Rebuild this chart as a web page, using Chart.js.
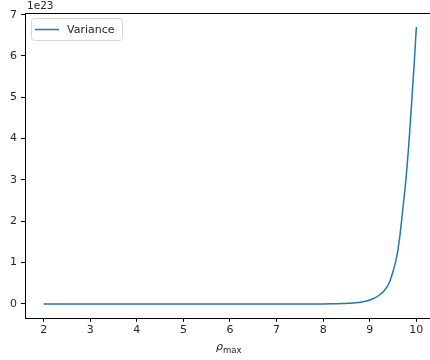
<!DOCTYPE html>
<html>
<head>
<meta charset="utf-8">
<script src="https://cdn.jsdelivr.net/npm/chart.js@4"></script>
<style>
  html, body { margin: 0; padding: 0; background: #fff; overflow: hidden; }
  #wrap { width: 440px; height: 360px; }
</style>
</head>
<body>
<div id="wrap"><canvas id="c" width="440" height="360"></canvas></div>
<script>
// rho_max values and variance (in units of 1e23)
var rhoMax = [2, 3, 4, 5, 6, 7, 7.5, 8, 8.2, 8.3, 8.4, 8.5, 8.6, 8.7, 8.8, 8.9,
              9.0, 9.1, 9.2, 9.3, 9.4, 9.45, 9.5, 9.55, 9.6, 9.65, 9.7, 9.75,
              9.8, 9.85, 9.9, 9.95, 10.0];
var variance = [0, 0, 0, 0, 0, 0, 0.0001, 0.001, 0.003, 0.005, 0.008, 0.013, 0.019, 0.029, 0.043, 0.064,
                0.095, 0.14, 0.21, 0.31, 0.47, 0.61, 0.79, 1.0, 1.28, 1.68, 2.2, 2.72,
                3.32, 4.05, 4.9, 5.75, 6.7];
var xTicks = [2, 3, 4, 5, 6, 7, 8, 9, 10];
var yTicks = [0, 1, 2, 3, 4, 5, 6, 7];

var FONT = "'DejaVu Sans', sans-serif";
var ink = "#262626";

var points = rhoMax.map(function (x, i) { return { x: x, y: variance[i] }; });

// frame, in-axes legend, offset text and the subscripted x label
var decor = {
  id: "decor",
  afterDraw: function (chart) {
    var ctx = chart.ctx, a = chart.chartArea;
    ctx.save();
    ctx.strokeStyle = "#000";
    ctx.lineWidth = 1;
    ctx.strokeRect(Math.round(a.left) + 0.5, Math.round(a.top) + 0.5,
                   Math.round(a.right - a.left), Math.round(a.bottom - a.top));

    // legend box
    var lx = a.left + 6, ly = a.top + 5, lw = 91, lh = 22;
    ctx.fillStyle = "rgba(255,255,255,0.8)";
    ctx.strokeStyle = "#d6d6d6";
    ctx.beginPath();
    if (ctx.roundRect) ctx.roundRect(lx + 0.5, ly + 0.5, lw, lh, 3); else ctx.rect(lx + 0.5, ly + 0.5, lw, lh);
    ctx.fill(); ctx.stroke();
    ctx.strokeStyle = "#1f77b4";
    ctx.lineWidth = 1.5;
    ctx.beginPath();
    ctx.moveTo(lx + 4, ly + 11.5); ctx.lineTo(lx + 28, ly + 11.5);
    ctx.stroke();
    ctx.fillStyle = ink;
    ctx.font = "11px " + FONT;
    ctx.textBaseline = "middle";
    ctx.textAlign = "left";
    ctx.fillText(chart.data.datasets[0].label, lx + 36, ly + 12);

    // offset text
    ctx.textBaseline = "alphabetic";
    ctx.font = "10.5px " + FONT;
    ctx.fillText("1e23", a.left + 2, a.top - 4);

    // x label: rho with subscript "max"
    ctx.font = "italic 11px " + FONT;
    var rw = ctx.measureText("\u03c1").width;
    ctx.fillText("\u03c1", 216, 350);
    ctx.font = "8.5px " + FONT;
    ctx.fillText("max", 216 + rw, 353);
    ctx.restore();
  }
};

new Chart(document.getElementById("c").getContext("2d"), {
  type: "line",
  data: {
    datasets: [{
      label: "Variance",
      data: points,
      borderColor: "#1f77b4",
      backgroundColor: "#1f77b4",
      borderWidth: 1.5,
      pointRadius: 0,
      cubicInterpolationMode: "monotone",
      fill: false
    }]
  },
  options: {
    responsive: false,
    animation: false,
    layout: { padding: { top: 13, right: 5, bottom: 21, left: 6 } },
    plugins: { legend: { display: false }, tooltip: { enabled: false } },
    scales: {
      x: {
        type: "linear",
        min: 1.6,
        max: 10.4,
        afterBuildTicks: function (s) { s.ticks = xTicks.map(function (v) { return { value: v }; }); },
        ticks: { color: ink, font: { family: FONT, size: 11 }, padding: 2, maxRotation: 0 },
        grid: { drawOnChartArea: false, drawTicks: true, tickLength: 4, tickColor: "#000" },
        border: { display: false }
      },
      y: {
        type: "linear",
        min: -0.335,
        max: 7.04,
        afterBuildTicks: function (s) { s.ticks = yTicks.map(function (v) { return { value: v }; }); },
        ticks: { color: ink, font: { family: FONT, size: 11 }, padding: 4 },
        grid: { drawOnChartArea: false, drawTicks: true, tickLength: 4, tickColor: "#000" },
        border: { display: false }
      }
    }
  },
  plugins: [decor]
});
</script>
</body>
</html>
